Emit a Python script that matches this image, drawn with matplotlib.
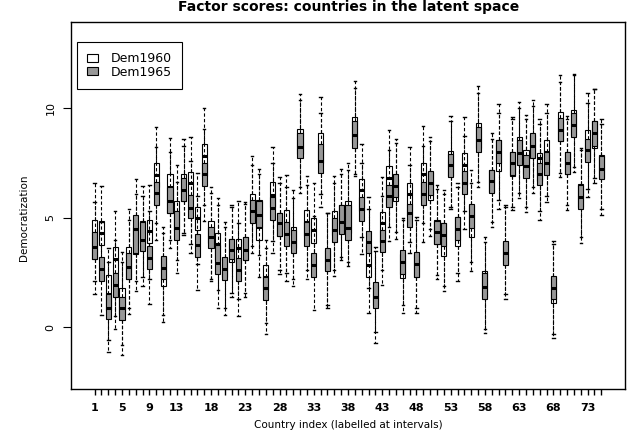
import numpy as np
import matplotlib
matplotlib.use("Agg")
import matplotlib.pyplot as plt  # noqa: E402
from matplotlib.patches import Patch  # noqa: E402

n_countries = 75
tick_labels = [1, 5, 9, 13, 18, 23, 28, 33, 38, 43, 48, 53, 58, 63, 68, 73]

# Dem1960 boxes: lower whisker, Q1, median, Q3, upper whisker
lo60 = [1.5, 3.0, -0.6, 0.5, -0.8, 0.6, 2.1, 2.3, 2.2, 4.75, 0.55, 4.0, 3.05, 4.3, 3.8,
        2.9, 5.6, 2.2, 1.7, 0.9, 1.4, 1.3, 1.55, 3.7, 2.3, 0.2, 3.95, 2.6, 2.5, 2.2,
        6.4, 2.6, 2.4, 6.1, 1.0, 2.6, 3.2, 3.0, 7.0, 4.1, 0.65, -0.2, 2.6, 4.6, 4.35,
        1.0, 3.9, 0.9, 4.75, 4.5, 2.4, 1.9, 5.5, 2.5, 5.3, 3.0, 6.65, -0.1, 4.8, 5.8,
        1.5, 5.5, 6.15, 5.5, 6.4, 5.3, 6.0, -0.3, 7.05, 5.6, 7.3, 4.1, 6.3, 6.8, 5.4]
q1_60 = [3.1, 3.76, 0.8, 2.5, 0.6, 2.2, 3.35, 3.85, 3.85, 6.4, 1.9, 5.2, 4.45, 5.75, 6.05,
         4.45, 6.9, 3.85, 3.05, 2.3, 3.0, 2.95, 3.05, 4.85, 4.0, 1.7, 5.5, 4.15, 4.2, 3.6,
         7.9, 4.15, 3.85, 7.5, 2.6, 4.2, 4.4, 4.3, 8.4, 5.3, 2.3, 1.0, 3.9, 5.6, 5.75,
         2.25, 5.1, 2.3, 5.9, 5.8, 3.8, 3.25, 6.9, 3.7, 6.5, 4.1, 8.2, 1.4, 6.2, 7.15,
         2.9, 6.9, 7.5, 7.0, 7.8, 6.7, 7.4, 1.1, 8.5, 7.0, 8.8, 5.5, 7.7, 8.2, 6.8]
med60 = [4.3, 4.3, 1.5, 3.1, 1.35, 2.8, 3.95, 4.4, 4.4, 6.95, 2.6, 6.4, 5.25, 6.5, 6.6,
         5.0, 7.8, 4.35, 3.8, 2.75, 3.6, 3.6, 3.6, 5.5, 4.6, 2.3, 6.05, 4.7, 4.75, 4.2,
         8.4, 4.8, 4.45, 8.25, 3.1, 4.75, 5.0, 4.95, 9.0, 6.25, 2.85, 1.5, 4.75, 6.8, 6.3,
         2.8, 6.1, 2.85, 7.0, 6.4, 4.4, 4.1, 7.5, 4.45, 7.4, 4.75, 8.85, 1.95, 6.75, 7.7,
         3.4, 7.5, 8.1, 7.6, 8.3, 7.75, 8.0, 1.75, 9.2, 7.55, 9.35, 6.1, 8.4, 8.85, 7.3]
q3_60 = [4.9, 4.85, 2.4, 3.65, 1.8, 3.65, 4.6, 4.85, 4.9, 7.5, 3.2, 7.0, 5.75, 7.0, 7.1,
         5.5, 8.35, 4.85, 4.3, 3.15, 4.05, 4.05, 4.1, 6.1, 5.8, 2.85, 6.65, 5.2, 5.35, 4.6,
         9.05, 5.35, 5.0, 8.85, 3.55, 5.3, 5.6, 5.75, 9.6, 6.75, 3.75, 1.95, 5.25, 7.35, 6.75,
         3.35, 6.6, 3.35, 7.5, 7.1, 4.9, 4.75, 8.05, 5.05, 7.95, 5.6, 9.35, 2.55, 7.2, 8.55,
         3.9, 8.0, 8.7, 8.1, 8.8, 7.95, 8.55, 2.3, 9.85, 8.0, 9.9, 6.55, 9.0, 9.4, 7.85]
hi60 = [6.6, 6.45, 3.6, 5.3, 3.45, 5.4, 6.1, 6.45, 6.5, 9.15, 4.6, 8.65, 7.4, 8.6, 8.7,
        7.05, 10.0, 6.4, 5.9, 4.8, 5.6, 5.75, 5.7, 7.8, 7.25, 4.0, 8.25, 6.85, 6.95, 6.25,
        10.65, 6.9, 6.6, 10.5, 5.2, 6.9, 7.25, 7.5, 11.25, 8.35, 5.4, 3.5, 6.85, 9.0, 8.4,
        4.9, 8.25, 4.9, 9.2, 8.5, 6.3, 6.1, 9.65, 6.4, 9.6, 6.6, 11.0, 3.9, 8.6, 9.8,
        5.5, 9.5, 10.3, 9.5, 10.1, 9.3, 10.2, 3.8, 11.2, 9.5, 11.5, 8.2, 10.7, 10.9, 9.3]

# Dem1965 boxes
lo65 = [2.1, 0.55, -1.15, -0.1, -1.25, 0.9, 1.65, 1.9, 1.05, 4.0, 0.25, 3.6, 2.5, 4.2, 3.4,
        1.7, 4.85, 2.1, 0.9, 0.55, 1.55, 0.5, 1.4, 3.4, 3.3, -0.3, 3.4, 2.45, 2.1, 1.9,
        6.15, 2.2, 0.8, 5.5, 0.9, 2.35, 3.05, 2.8, 6.9, 3.35, 1.8, -0.7, 1.95, 3.95, 4.05,
        0.67, 3.4, 0.65, 3.9, 4.15, 2.2, 1.67, 5.4, 2.1, 4.5, 2.55, 6.4, -0.25, 4.6, 5.4,
        1.28, 5.35, 5.9, 5.25, 6.15, 4.9, 5.7, -0.5, 6.85, 5.35, 7.1, 3.84, 5.95, 6.6, 5.15]
q1_65 = [3.1, 2.1, 0.4, 1.4, 0.33, 2.2, 3.4, 3.5, 2.65, 5.6, 2.2, 5.2, 4.0, 5.75, 5.0,
         3.2, 6.45, 3.6, 2.45, 2.15, 3.1, 2.1, 3.05, 4.75, 4.6, 1.25, 4.9, 4.15, 3.7, 3.4,
         7.75, 3.7, 2.3, 7.05, 2.55, 3.9, 4.25, 4.0, 8.2, 4.85, 3.4, 0.87, 3.45, 5.5, 5.95,
         2.45, 4.6, 2.3, 5.6, 6.05, 3.8, 3.7, 6.85, 4.0, 6.1, 4.55, 8.0, 1.3, 6.15, 7.5,
         2.85, 6.95, 7.4, 6.8, 7.75, 6.5, 6.95, 1.3, 8.5, 7.0, 8.7, 5.4, 7.55, 8.3, 6.75]
med65 = [3.65, 2.65, 0.9, 1.95, 0.87, 2.75, 4.5, 4.0, 3.15, 6.15, 2.7, 5.75, 4.55, 6.27, 5.45,
         3.75, 7.0, 4.1, 2.95, 2.65, 3.55, 2.6, 3.55, 5.3, 5.15, 1.8, 5.45, 4.75, 4.25, 3.9,
         8.25, 4.25, 2.85, 7.6, 3.05, 4.45, 4.8, 4.55, 8.8, 5.4, 3.9, 1.4, 3.95, 6.0, 6.45,
         3.0, 5.2, 2.9, 6.1, 6.6, 4.35, 4.2, 7.4, 4.5, 6.6, 5.1, 8.55, 1.85, 6.7, 8.0,
         3.4, 7.5, 7.95, 7.35, 8.3, 7.0, 7.5, 1.8, 9.0, 7.5, 9.25, 5.95, 8.1, 8.85, 7.25]
q3_65 = [4.35, 3.2, 1.5, 2.5, 1.4, 3.4, 5.15, 4.8, 3.7, 6.65, 3.25, 6.4, 5.3, 6.8, 6.05,
         4.25, 7.5, 4.6, 3.75, 3.2, 4.05, 3.15, 4.1, 5.8, 5.75, 2.3, 5.95, 5.2, 4.8, 4.45,
         8.85, 4.8, 3.4, 8.35, 3.6, 5.0, 5.6, 5.6, 9.4, 5.95, 4.4, 2.05, 4.45, 6.5, 7.0,
         3.55, 5.65, 3.45, 6.65, 7.15, 4.85, 4.75, 7.9, 5.05, 7.15, 5.65, 9.15, 2.5, 7.2, 8.55,
         3.95, 8.0, 8.55, 7.85, 8.85, 7.5, 8.0, 2.35, 9.55, 8.0, 9.8, 6.5, 8.6, 9.4, 7.8]
hi65 = [5.7, 4.8, 3.0, 4.0, 3.0, 4.9, 6.75, 6.0, 5.3, 8.25, 4.3, 8.0, 6.65, 8.3, 7.6,
        6.0, 9.05, 6.15, 5.6, 4.6, 5.5, 4.75, 5.65, 7.4, 7.0, 3.6, 7.5, 6.6, 6.4, 5.9,
        10.4, 6.5, 5.1, 9.8, 5.2, 6.6, 7.0, 7.2, 10.95, 7.5, 5.97, 3.68, 6.0, 8.1, 8.6,
        5.0, 7.4, 5.05, 8.3, 8.7, 6.5, 6.27, 9.4, 6.6, 8.75, 7.2, 10.7, 4.1, 8.85, 10.2,
        5.6, 9.6, 10.0, 9.7, 10.4, 9.5, 9.8, 3.95, 11.5, 9.65, 11.55, 8.1, 10.25, 10.9, 9.5]


def box_stats(lo, q1, med, q3, hi):
    return [dict(whislo=a, q1=b, med=c, q3=d, whishi=e, fliers=[])
            for a, b, c, d, e in zip(lo, q1, med, q3, hi)]


pos = np.arange(1, n_countries + 1)
fig = plt.figure(figsize=(6.3, 4.32), dpi=100)
ax = fig.add_axes([0.1122, 0.0995, 0.8803, 0.8495])

common = dict(positions=pos, widths=0.75, capwidths=0.35, patch_artist=True,
              manage_ticks=False, showfliers=False,
              medianprops=dict(color="black", linewidth=2.2),
              whiskerprops=dict(color="black", linewidth=0.8, linestyle=(0, (3, 2))),
              capprops=dict(color="black", linewidth=1.0))
# 1960 first, 1965 drawn over it (like add=TRUE)
ax.bxp(box_stats(lo60, q1_60, med60, q3_60, hi60),
       boxprops=dict(facecolor="white", edgecolor="black", linewidth=0.8),
       zorder=2, **common)
ax.bxp(box_stats(lo65, q1_65, med65, q3_65, hi65),
       boxprops=dict(facecolor="#979797", edgecolor="black", linewidth=0.8),
       zorder=3, **common)

ax.set_xlim(-2.5, 78.5)
ax.set_ylim(-2.82, 13.94)
ax.set_xticks(pos)
ax.set_xticklabels([str(i) if i in tick_labels else "" for i in pos],
                   fontsize=8, fontweight="bold")
ax.tick_params(axis="x", length=4, width=1.0, pad=6)
ax.set_yticks([0, 5, 10])
ax.set_yticklabels(["0", "5", "10"], rotation=90, va="center", fontsize=8)
ax.tick_params(axis="y", length=6, width=0.8, pad=5)
for s in ax.spines.values():
    s.set_linewidth(1.0)

ax.set_ylabel("Democratization", fontsize=7.5)
ax.yaxis.set_label_coords(-0.075, 0.466)

handles = [Patch(facecolor="white", edgecolor="black", linewidth=0.8, label="Dem1960"),
           Patch(facecolor="#979797", edgecolor="black", linewidth=0.8, label="Dem1965")]
leg = ax.legend(handles=handles, loc="upper left", bbox_to_anchor=(0.0114, 0.9455),
                fontsize=9, fancybox=False, framealpha=1, edgecolor="black",
                handlelength=0.9, handleheight=0.6, handletextpad=1.0,
                labelspacing=0.05, borderpad=0.8, borderaxespad=0)
leg.get_frame().set_linewidth(0.8)

fig.text(0.553, 0.9745, "Factor scores: countries in the latent space",
         ha="center", va="baseline", fontsize=10, fontweight="bold")
fig.text(0.553, 0.004, "Country index (labelled at intervals)",
         ha="center", va="bottom", fontsize=7.5)

fig.savefig("out.png", dpi=100)
plt.close(fig)
